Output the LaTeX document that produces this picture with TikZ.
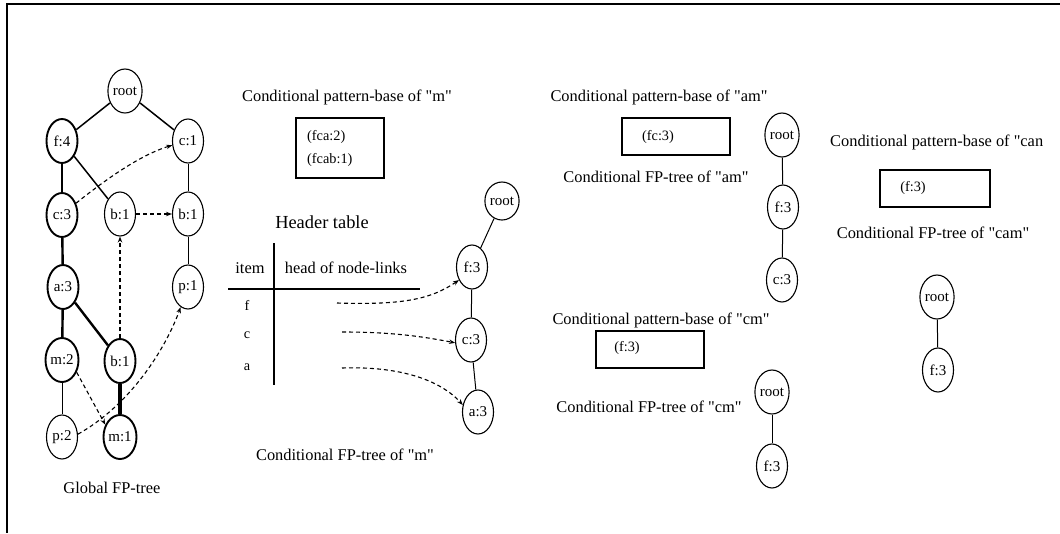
\documentclass[tikz,border=0pt]{standalone}
\usepackage{fontspec}
\setmainfont{Liberation Serif}[Ligatures=NoCommon]
\newfontfamily\tms{Liberation Serif}[Ligatures=NoCommon]
\usetikzlibrary{shapes.geometric,arrows.meta}
\newcommand{\dq}{\symbol{34}}
\begin{document}
\begin{tikzpicture}[x=1pt,y=-1pt,
  nd/.style={draw,ellipse,minimum width=31pt,minimum height=44pt,inner sep=0pt,line width=1.1pt,font=\tms\fontsize{15}{16}\selectfont},
  bnd/.style={nd,line width=1.9pt},
  rnd/.style={nd,minimum height=38pt},
  lbl/.style={font=\tms\fontsize{16.4}{18}\selectfont,inner sep=0pt},
  sml/.style={font=\tms\fontsize{14.3}{16}\selectfont,inner sep=0pt},
  tedge/.style={line width=1pt},
  medge/.style={line width=1.5pt},
  kedge/.style={line width=2.4pt},
  xedge/.style={line width=4pt},
  dlink/.style={dashed,dash pattern=on 4pt off 3pt,line width=1.1pt,-{Stealth[length=6pt,width=4.5pt]}},
  pbox/.style={draw,line width=1.2pt}
]
\useasboundingbox (0,0) rectangle (1060,533);
\draw[line width=2pt] (1060,4) -- (7,4) -- (7,533);

% Global FP-tree
\node[nd]  (groot) at (125,91) {root};
\node[bnd] (gf4) at (62,141) {f:4};
\node[nd]  (gc1) at (188,141) {c:1};
\node[bnd] (gc3) at (62,215) {c:3};
\node[nd]  (gb1) at (120,214) {b:1};
\node[nd]  (gb1r) at (188,214) {b:1};
\node[bnd] (ga3) at (63,287) {a:3};
\node[nd]  (gp1) at (188,287) {p:1};
\node[bnd] (gm2) at (62,360) {m:2};
\node[bnd] (gb1l) at (120,361) {b:1};
\node[nd]  (gp2) at (62,437) {p:2};
\node[bnd] (gm1) at (120,437) {m:1};
\node[lbl] (gtitle) at (112,488) {Global FP-tree};

\draw[medge] (groot) -- (gf4);
\draw[medge] (groot) -- (gc1);
\draw[kedge] (gf4) -- (gc3);
\draw[medge] (gf4) -- (gb1);
\draw[tedge] (gc1) -- (gb1r);
\draw[kedge] (gc3) -- (ga3);
\draw[tedge] (gb1r) -- (gp1);
\draw[kedge] (ga3) -- (gm2);
\draw[kedge] (ga3) -- (gb1l);
\draw[tedge] (gm2) -- (gp2);
\draw[xedge] (gb1l) -- (gm1);

\draw[dlink] (gc3.40) .. controls (105,180) and (140,155) .. (gc1.195);
\draw[dlink] (gb1) -- (gb1r);
\draw[dlink] (gb1l) -- (gb1);
\draw[dlink] (gm2.-40) -- (gm1.140);
\draw[dlink] (gp2.10) .. controls (130,405) and (165,350) .. (gp1.-110);

% Conditional pattern-base of m
\node[lbl] (tm) at (347,97) {Conditional pattern-base of \dq m\dq};
\draw[pbox] (296,118) rectangle (384,178);
\node[sml,anchor=west] (fca) at (307,137) {(fca:2)};
\node[sml,anchor=west] (fcab) at (307,160) {(fcab:1)};

% Header table
\node[font=\tms\fontsize{18.4}{20}\selectfont,inner sep=0pt] (ht) at (322,222) {Header table};
\node[lbl] (hitem) at (250,268) {item};
\node[lbl] (hhead) at (346,268) {head of node-links};
\draw[line width=1.2pt] (228,289) -- (420,289);
\draw[line width=1.2pt] (274,243) -- (274,385);
\node[sml] (hf) at (247,305) {f};
\node[sml] (hc) at (247,335) {c};
\node[sml] (ha) at (247,367) {a};
\coordinate (sf) at (337,303);
\coordinate (sc) at (342,332);
\coordinate (sa) at (342,368);

% Conditional FP-tree of m
\node[rnd] (mroot) at (502,201) {root};
\node[nd] (mf3) at (472,267) {f:3};
\node[nd] (mc3) at (471,340) {c:3};
\node[nd] (ma3) at (478,412) {a:3};
\draw[tedge] (mroot) -- (mf3);
\draw[tedge] (mf3) -- (mc3);
\draw[tedge] (mc3) -- (ma3);
\draw[dlink] (sf) .. controls (400,305) and (430,300) .. (mf3.225);
\draw[dlink] (sc) .. controls (390,332) and (420,336) .. (mc3.190);
\draw[dlink] (sa) .. controls (400,366) and (440,380) .. (ma3.155);
\node[lbl] (tmtree) at (345,455) {Conditional FP-tree of \dq m\dq};

% am
\node[lbl] (tam) at (659,97) {Conditional pattern-base of \dq am\dq};
\draw[pbox] (622,118) rectangle (730,155);
\node[sml] (fc3) at (658,137) {(fc:3)};
\node[lbl] (tamtree) at (656,177) {Conditional FP-tree of \dq am\dq};
\node[nd] (aroot) at (782,135) {root};
\node[nd] (af3) at (783,207) {f:3};
\node[nd] (ac3) at (782,280) {c:3};
\draw[tedge] (aroot) -- (af3);
\draw[tedge] (af3) -- (ac3);

% cm
\node[lbl] (tcm) at (661,320) {Conditional pattern-base of \dq cm\dq};
\draw[pbox] (596,331) rectangle (704,368);
\node[sml] (cmf3) at (627,348) {(f:3)};
\node[lbl] (tcmtree) at (649,407) {Conditional FP-tree of \dq cm\dq};
\node[nd] (croot) at (772,392) {root};
\node[nd] (cf3) at (772,466) {f:3};
\draw[tedge] (croot) -- (cf3);

% cam
\node[lbl,anchor=west] (tcan) at (830,142) {Conditional pattern-base of \dq can};
\draw[pbox] (880,170) rectangle (990,207);
\node[sml] (camf3) at (913,188) {(f:3)};
\node[lbl] (tcamtree) at (933,233) {Conditional FP-tree of \dq cam\dq};
\node[nd] (kroot) at (937,297) {root};
\node[nd] (kf3) at (938,370) {f:3};
\draw[tedge] (kroot) -- (kf3);
\end{tikzpicture}
\end{document}
